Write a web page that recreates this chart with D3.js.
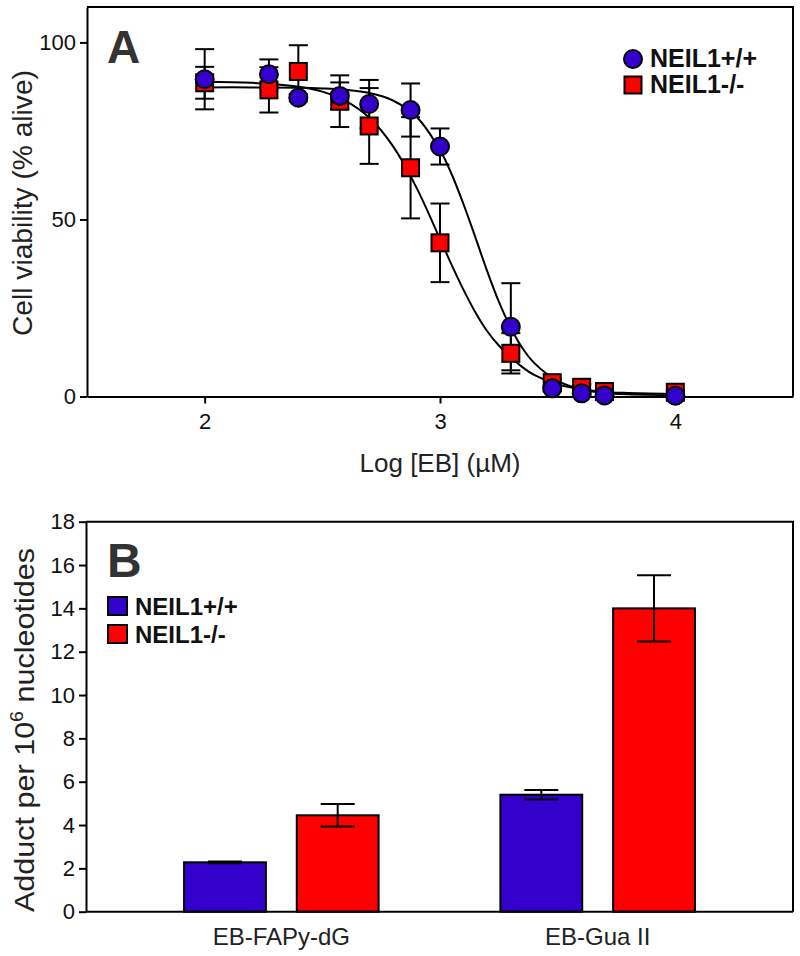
<!DOCTYPE html>
<html>
<head>
<meta charset="utf-8">
<script src="https://cdn.jsdelivr.net/npm/d3@7"></script>
<style>
  body { margin: 0; background: #fff; }
  svg { display: block; font-family: "Liberation Sans", Arial, sans-serif; }
  .axis path, .axis line { stroke: #000; stroke-width: 2; }
  .axis text { font-size: 22px; fill: #111; }
</style>
</head>
<body>
<svg id="chart" width="800" height="956"></svg>
<script>
// panel A: viability vs log dose
const logDose = [2, 2.273, 2.398, 2.574, 2.699, 2.875, 3, 3.301, 3.477, 3.602, 3.699, 4];
const wtMean = [89.6, 91.0, 84.4, 84.9, 82.6, 80.9, 70.6, 19.7, 2.3, 0.9, 0.3, 0.2];
const wtErr = [8.5, 4.2, 1.0, 3.8, 6.8, 7.5, 5.1, 12.3, 0.8, 0.5, 0.4, 0.3];
const koMean = [88.6, 86.6, 91.8, 83.4, 76.4, 64.6, 43.4, 12.2, 3.9, 2.6, 1.4, 1.2];
const koErr = [4.5, 6.4, 7.4, 7.3, 10.7, 14.3, 11.1, 5.7, 1.0, 0.8, 0.6, 0.5];

// fitted curves
const fitDose = [2, 2.2, 2.4, 2.5, 2.6, 2.7, 2.8, 2.9, 3, 3.05, 3.1, 3.15, 3.2, 3.25, 3.3, 3.35, 3.4, 3.5, 3.6, 3.7, 3.8, 4];
const wtFit = [87.3, 87.3, 87.2, 87.0, 86.6, 85.7, 83.6, 79.0, 69.6, 62.7, 54.3, 45.0, 35.5, 26.8, 19.5, 13.7, 9.5, 4.4, 2.0, 1.0, 0.6, 0.35];
const koFit = [88.9, 88.6, 87.5, 86.1, 83.4, 78.7, 70.7, 59.0, 44.5, 37.1, 30.1, 23.8, 18.5, 14.4, 11.2, 8.3, 6.1, 3.4, 2.1, 1.3, 1.0, 0.7];

const xTicksA = [2, 3, 4];
const yTicksA = [0, 50, 100];

// panel B: adduct levels
const adducts = ["EB-FAPy-dG", "EB-Gua II"];
const genotypes = ["NEIL1+/+", "NEIL1-/-"];
const wtAdduct = [2.28, 5.40];
const wtAdductErr = [0.04, 0.22];
const koAdduct = [4.45, 14.0];
const koAdductErr = [0.52, 1.53];
const yTicksB = [0, 2, 4, 6, 8, 10, 12, 14, 16, 18];

const BLUE = "#3300cc", RED = "#ff0000";

const svg = d3.select("#chart");

// ---------- panel A ----------
const xA = d3.scaleLinear().domain([1.5, 4.5]).range([87, 793]);
const yA = d3.scaleLinear().domain([0, 110]).range([396.5, 7]);

const gA = svg.append("g");

gA.append("path")
  .attr("d", `M${xA(1.5)},${yA(110)}H${xA(4.5)}V${yA(0)}`)
  .attr("fill", "none").attr("stroke", "#000").attr("stroke-width", 2);

gA.append("g").attr("class", "axis")
  .attr("transform", `translate(0,${yA(0)})`)
  .call(d3.axisBottom(xA).tickValues(xTicksA).tickFormat(d3.format("d")).tickSize(7).tickSizeOuter(0).tickPadding(10));

gA.append("g").attr("class", "axis")
  .attr("transform", `translate(${xA(1.5)},0)`)
  .call(d3.axisLeft(yA).tickValues(yTicksA).tickSize(7).tickSizeOuter(0).tickPadding(4));

const line = d3.line().curve(d3.curveCatmullRom);

gA.append("path")
  .attr("d", line(fitDose.map((d, i) => [xA(d), yA(koFit[i])])))
  .attr("fill", "none").attr("stroke", "#000").attr("stroke-width", 2);
gA.append("path")
  .attr("d", line(fitDose.map((d, i) => [xA(d), yA(wtFit[i])])))
  .attr("fill", "none").attr("stroke", "#000").attr("stroke-width", 2);

function errBars(g, xs, ys, es, xScale, yScale, half) {
  const eb = g.append("g").attr("stroke", "#000").attr("stroke-width", 2);
  xs.forEach((x, i) => {
    const cx = xScale(x), lo = yScale(ys[i] - es[i]), hi = yScale(ys[i] + es[i]);
    eb.append("line").attr("x1", cx).attr("x2", cx).attr("y1", lo).attr("y2", hi);
    eb.append("line").attr("x1", cx - half).attr("x2", cx + half).attr("y1", lo).attr("y2", lo);
    eb.append("line").attr("x1", cx - half).attr("x2", cx + half).attr("y1", hi).attr("y2", hi);
  });
}

errBars(gA, logDose, koMean, koErr, xA, yA, 9.5);
errBars(gA, logDose, wtMean, wtErr, xA, yA, 9.5);

gA.append("g").selectAll("rect")
  .data(logDose)
  .join("rect")
  .attr("x", d => xA(d) - 8.5)
  .attr("y", (d, i) => yA(koMean[i]) - 8.5)
  .attr("width", 17).attr("height", 17)
  .attr("fill", RED).attr("stroke", "#000").attr("stroke-width", 2);

gA.append("g").selectAll("circle")
  .data(logDose)
  .join("circle")
  .attr("cx", d => xA(d))
  .attr("cy", (d, i) => yA(wtMean[i]))
  .attr("r", 9)
  .attr("fill", BLUE).attr("stroke", "#000").attr("stroke-width", 2);

gA.append("text").attr("x", 107).attr("y", 63)
  .attr("font-size", 46).attr("font-weight", "bold").attr("fill", "#333").text("A");

gA.append("text")
  .attr("transform", `translate(32,203) rotate(-90)`)
  .attr("text-anchor", "middle").attr("font-size", 27).attr("fill", "#222")
  .attr("textLength", 266).attr("lengthAdjust", "spacingAndGlyphs")
  .text("Cell viability (% alive)");

gA.append("text")
  .attr("x", (xA(1.5) + xA(4.5)) / 2).attr("y", 472)
  .attr("text-anchor", "middle").attr("font-size", 26).attr("fill", "#222")
  .text("Log [EB] (\u00b5M)");

// legend A
const legA = gA.append("g");
legA.append("circle").attr("cx", 633).attr("cy", 59).attr("r", 9)
  .attr("fill", BLUE).attr("stroke", "#000").attr("stroke-width", 2);
legA.append("rect").attr("x", 624.5).attr("y", 76.5).attr("width", 17).attr("height", 17)
  .attr("fill", RED).attr("stroke", "#000").attr("stroke-width", 2);
legA.selectAll("text").data(genotypes).join("text")
  .attr("x", 650).attr("y", (d, i) => 67 + i * 26)
  .attr("font-size", 25).attr("font-weight", "bold").attr("fill", "#111")
  .text(d => d);

// ---------- panel B ----------
const x0 = d3.scaleBand().domain(adducts).range([86, 793]).paddingInner(0.385).paddingOuter(0.31);
const x1 = d3.scaleBand().domain(genotypes).range([0, x0.bandwidth()]).paddingInner(0.274);
const yB = d3.scaleLinear().domain([0, 18]).range([911.7, 521.7]);

const gB = svg.append("g");

gB.append("path")
  .attr("d", `M86,${yB(18)}H793V${yB(0)}`)
  .attr("fill", "none").attr("stroke", "#000").attr("stroke-width", 2);

const series = [
  { key: genotypes[0], vals: wtAdduct, errs: wtAdductErr, color: BLUE },
  { key: genotypes[1], vals: koAdduct, errs: koAdductErr, color: RED }
];

series.forEach(s => {
  gB.append("g").selectAll("rect")
    .data(adducts)
    .join("rect")
    .attr("x", d => x0(d) + x1(s.key))
    .attr("y", (d, i) => yB(s.vals[i]))
    .attr("width", x1.bandwidth())
    .attr("height", (d, i) => yB(0) - yB(s.vals[i]))
    .attr("fill", s.color).attr("stroke", "#000").attr("stroke-width", 2);
});

series.forEach(s => {
  const xb = d3.scaleOrdinal().domain(adducts).range(adducts.map(a => x0(a) + x1(s.key) + x1.bandwidth() / 2));
  errBars(gB, adducts, s.vals, s.errs, xb, yB, 17);
});

gB.append("g").attr("class", "axis")
  .attr("transform", "translate(86,0)")
  .call(d3.axisLeft(yB).tickValues(yTicksB).tickSize(7).tickSizeOuter(0).tickPadding(4));

gB.append("line").attr("x1", 86).attr("x2", 793).attr("y1", yB(0)).attr("y2", yB(0))
  .attr("stroke", "#000").attr("stroke-width", 2);

gB.append("g").selectAll("text")
  .data(adducts)
  .join("text")
  .attr("x", d => x0(d) + x0.bandwidth() / 2)
  .attr("y", 945)
  .attr("text-anchor", "middle").attr("font-size", 24).attr("fill", "#222")
  .text(d => d);

gB.append("text").attr("x", 107).attr("y", 577)
  .attr("font-size", 48).attr("font-weight", "bold").attr("fill", "#333").text("B");

const yLabB = gB.append("text")
  .attr("transform", `translate(34,730) rotate(-90)`)
  .attr("text-anchor", "middle").attr("font-size", 28).attr("fill", "#222")
  .attr("textLength", 364).attr("lengthAdjust", "spacingAndGlyphs");
yLabB.append("tspan").text("Adduct per 10");
yLabB.append("tspan").attr("font-size", 18).attr("dy", -11).text("6");
yLabB.append("tspan").attr("dy", 11).text(" nucleotides");

// legend B
const legB = gB.append("g");
series.forEach((s, i) => {
  legB.append("rect").attr("x", 108).attr("y", 597 + i * 28).attr("width", 19).attr("height", 18)
    .attr("fill", s.color).attr("stroke", "#000").attr("stroke-width", 2);
  legB.append("text").attr("x", 135).attr("y", 615 + i * 28)
    .attr("font-size", 24).attr("font-weight", "bold").attr("fill", "#111")
    .text(s.key);
});
</script>
</body>
</html>
